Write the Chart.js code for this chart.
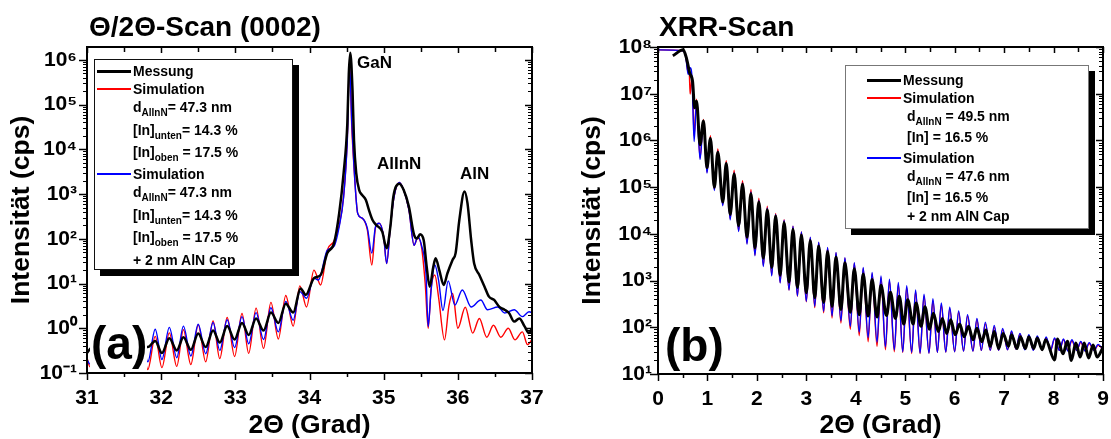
<!DOCTYPE html>
<html><head><meta charset="utf-8">
<script src="https://cdn.jsdelivr.net/npm/chart.js@4.4.1/dist/chart.umd.min.js"></script>
<style>
html,body{margin:0;padding:0;background:#fff}
body{width:1111px;height:439px;position:relative;overflow:hidden;font-family:"Liberation Sans",Arial,Helvetica,sans-serif;font-weight:bold;color:#000}
canvas{position:absolute;top:0}
#ca{left:0;width:556px;height:439px}
#cb{left:556px;width:555px;height:439px}
.t{position:absolute;white-space:nowrap;font-weight:bold}
.title{font-size:28px;line-height:28px}
.lg{position:absolute;background:#fff;box-shadow:6px 6px 0 #000}
.lg .r{position:absolute;font-size:14px;line-height:18px;height:18px;white-space:nowrap}
.lg .ln{position:absolute;height:0}
.sub{font-size:10px;position:relative;top:4px}
.pk{font-size:17px;line-height:17px}
.lab{font-size:46px;line-height:46px}
.wb{position:absolute;background:#fff}
</style></head><body>
<canvas id="ca" width="556" height="439"></canvas>
<canvas id="cb" width="555" height="439"></canvas>

<div class="t title" style="left:89px;top:13px">Θ/2Θ-Scan (0002)</div>
<div class="t title" style="left:659px;top:13px">XRR-Scan</div>

<div class="t pk" style="left:357px;top:54px">GaN</div>
<div class="t pk" style="left:377px;top:155px">AlInN</div>
<div class="t pk" style="left:460px;top:165px">AlN</div>

<div class="wb" style="left:90px;top:312px;width:57px;height:60px"></div>
<div class="t lab" style="left:91px;top:320px">(a)</div>
<div class="t lab" style="left:665px;top:322px">(b)</div>

<div class="lg" style="left:94px;top:59px;width:197px;height:209px;border:1px solid #111">
  <div class="ln" style="left:2px;width:34px;top:10px;border-top:3px solid #000"></div>
  <div class="r" style="left:38px;top:2px">Messung</div>
  <div class="ln" style="left:2px;width:34px;top:28px;border-top:2px solid #ff0000"></div>
  <div class="r" style="left:38px;top:20px">Simulation</div>
  <div class="r" style="left:38px;top:38px">d<span class="sub">AlInN</span>= 47.3 nm</div>
  <div class="r" style="left:38px;top:61px">[In]<span class="sub">unten</span>= 14.3 %</div>
  <div class="r" style="left:38px;top:83px">[In]<span class="sub">oben</span> = 17.5 %</div>
  <div class="ln" style="left:2px;width:34px;top:113px;border-top:2px solid #0000ff"></div>
  <div class="r" style="left:38px;top:105px">Simulation</div>
  <div class="r" style="left:38px;top:123px">d<span class="sub">AlInN</span>= 47.3 nm</div>
  <div class="r" style="left:38px;top:146px">[In]<span class="sub">unten</span>= 14.3 %</div>
  <div class="r" style="left:38px;top:168px">[In]<span class="sub">oben</span> = 17.5 %</div>
  <div class="r" style="left:38px;top:191px">+ 2 nm AlN Cap</div>
</div>

<div class="lg" style="left:845px;top:65px;width:242px;height:162px;border:1px solid #777">
  <div class="ln" style="left:21px;width:34px;top:13px;border-top:3px solid #000"></div>
  <div class="r" style="left:57px;top:5px">Messung</div>
  <div class="ln" style="left:21px;width:34px;top:31px;border-top:2px solid #ff0000"></div>
  <div class="r" style="left:57px;top:23px">Simulation</div>
  <div class="r" style="left:61px;top:41px">d<span class="sub">AlInN</span> = 49.5 nm</div>
  <div class="r" style="left:61px;top:62px">[In] = 16.5 %</div>
  <div class="ln" style="left:21px;width:34px;top:91px;border-top:2px solid #0000ff"></div>
  <div class="r" style="left:57px;top:83px">Simulation</div>
  <div class="r" style="left:61px;top:101px">d<span class="sub">AlInN</span> = 47.6 nm</div>
  <div class="r" style="left:61px;top:122px">[In] = 16.5 %</div>
  <div class="r" style="left:61px;top:141px">+ 2 nm AlN Cap</div>
</div>

<script>
// ---------- tick labels ----------
const xrdXTicks = [31, 32, 33, 34, 35, 36, 37];
const xrdYTicks = [0.1, 1, 10, 100, 1000, 1e4, 1e5, 1e6];
const xrrXTicks = [0, 1, 2, 3, 4, 5, 6, 7, 8, 9];
const xrrYTicks = [10, 100, 1000, 1e4, 1e5, 1e6, 1e7, 1e8];

// ---------- (a) Theta/2Theta scan ----------
const xrdMessX = [31.00,31.05,31.20,31.40,31.60,31.82,31.92,32.01,32.11,32.21,32.30,32.40,32.50,32.60,32.70,32.79,32.89,32.99,33.09,33.18,33.28,33.38,33.48,33.58,33.68,33.78,33.88,33.95,34.06,34.15,34.24,34.33,34.40,34.46,34.51,34.53,34.55,34.58,34.60,34.63,34.67,34.71,34.76,34.80,34.85,34.90,34.98,35.04,35.09,35.13,35.21,35.27,35.34,35.41,35.45,35.49,35.54,35.58,35.62,35.67,35.70,35.75,35.81,35.86,35.93,35.97,36.02,36.09,36.13,36.18,36.22,36.29,36.36,36.42,36.49,36.56,36.63,36.69,36.76,36.83,36.90,36.96,37.00];
const xrdMessY = [0.28,0.355,0.40,0.355,0.40,0.38,0.52,0.28,0.60,0.32,0.63,0.33,0.76,0.38,0.89,0.48,1.12,0.56,1.32,0.71,1.66,0.89,2.24,1.32,3.55,2.24,7.8,5.6,13.2,15.5,48,79,370,2950,3.8e4,5.0e5,1.45e6,2.1e5,1.6e4,2950,1230,955,740,450,263,204,145,62,186,870,1700,1230,525,123,102,126,93,24,8.5,24,37,20,9.3,17,34,48,263,1150,630,93,28,15.5,8.5,5.1,4.3,3.0,2.6,2.2,1.41,1.66,1.10,0.78,1.0];

const xrdSim1X = [31.00,31.04,31.13,31.24,31.33,31.43,31.53,31.63,31.73,31.82,31.92,32.01,32.11,32.21,32.30,32.40,32.50,32.60,32.70,32.79,32.89,32.99,33.09,33.18,33.28,33.38,33.48,33.58,33.68,33.78,33.87,33.96,34.06,34.15,34.24,34.33,34.40,34.46,34.51,34.54,34.57,34.60,34.65,34.71,34.78,34.84,34.89,34.94,35.00,35.04,35.09,35.14,35.21,35.27,35.34,35.41,35.46,35.51,35.56,35.60,35.64,35.69,35.74,35.82,35.88,35.93,36.00,36.10,36.20,36.29,36.39,36.48,36.58,36.68,36.77,36.87,36.94,37.00];
const xrdSim1Y = [0.22,0.138,0.50,0.126,0.52,0.12,0.56,0.12,0.60,0.12,0.66,0.132,0.79,0.141,0.93,0.155,1.20,0.178,1.45,0.21,1.74,0.234,2.14,0.275,2.82,0.355,3.8,0.575,5.4,1.12,8.9,3.0,20,9.3,56,89,200,890,1.8e4,1.0e6,3.2e4,4.0e3,370,290,158,26,178,224,112,28,186,870,1820,1230,450,72,105,66,10,1.0,7.9,15.5,5.0,0.55,3.16,6.0,1.0,2.95,0.78,1.66,0.63,1.17,0.63,1.0,0.55,0.83,0.43,0.56];

const xrdSim2X = [31.00,31.04,31.13,31.24,31.33,31.43,31.53,31.63,31.73,31.82,31.92,32.01,32.11,32.21,32.30,32.40,32.50,32.60,32.70,32.79,32.89,32.99,33.09,33.18,33.28,33.38,33.48,33.58,33.68,33.78,33.87,33.96,34.06,34.12,34.24,34.33,34.40,34.46,34.51,34.54,34.57,34.60,34.65,34.71,34.78,34.84,34.89,34.94,35.00,35.04,35.09,35.14,35.21,35.27,35.34,35.41,35.46,35.51,35.57,35.60,35.64,35.69,35.74,35.80,35.87,35.96,36.06,36.18,36.31,36.40,36.54,36.63,36.76,36.87,36.96,37.00];
const xrdSim2Y = [0.20,0.158,0.71,0.178,0.76,0.178,0.79,0.178,0.83,0.178,0.95,0.20,1.05,0.22,1.12,0.24,1.23,0.27,1.35,0.32,1.55,0.37,1.82,0.45,2.24,0.56,2.88,0.83,3.98,1.51,6.6,4.7,13.2,12.0,56,68,186,870,1.6e4,7.9e5,4.0e4,4.1e3,370,290,174,48,186,224,112,28,186,870,1820,1230,450,72,112,72,17,1.10,7.2,26,12,2.5,11.5,3.3,7.2,3.0,4.3,2.6,3.0,2.2,2.6,1.82,2.34,2.24];

// ---------- (b) XRR scan ----------
const xrrMessX = [0.30,0.51,0.58,0.64,0.70,0.74,0.78,0.85,0.92,0.99,1.06,1.14,1.21,1.31,1.38,1.46,1.54,1.63,1.71,1.80,1.88,1.96,2.04,2.13,2.21,2.30,2.38,2.47,2.55,2.65,2.73,2.82,2.90,3.00,3.08,3.17,3.25,3.35,3.43,3.52,3.60,3.70,3.78,3.89,3.97,4.07,4.15,4.25,4.33,4.43,4.51,4.62,4.70,4.80,4.88,4.97,5.05,5.16,5.22,5.32,5.40,5.49,5.57,5.67,5.75,5.84,5.92,6.01,6.10,6.19,6.28,6.37,6.45,6.55,6.63,6.72,6.80,6.89,6.98,7.09,7.15,7.26,7.33,7.43,7.50,7.60,7.67,7.77,7.84,8.02,8.08,8.19,8.28,8.36,8.45,8.54,8.62,8.71,8.80,8.88,9.00];
const xrrMessY = [6.5e7,8.7e7,5.5e7,2.8e7,1.8e7,5.0e6,6.9e6,8.1e5,2.6e6,2.6e5,1.1e6,1.0e5,5.6e5,4.8e4,3.2e5,2.6e4,1.9e5,1.5e4,1.15e5,8.5e3,7.2e4,5.0e3,4.8e4,3.0e3,3.3e4,1.9e3,2.4e4,1.3e3,1.74e4,930,1.26e4,710,9.5e3,550,7.2e3,430,5.5e3,340,4.2e3,280,3.2e3,240,2.4e3,210,1.8e3,186,1.38e3,174,1.05e3,166,790,178,560,155,460,117,390,117,330,105,275,91,200,81,155,74,145,69,117,63,105,54,95,49,87,39,81,35,74,39,69,35,63,35,63,35,59,33,54,20,56,27,50,19.5,46,23,46,22,42,23,37];

const xrrSim1X = [0,0.50,0.56,0.61,0.63,0.65,0.69,0.73,0.78,0.85,0.92,0.99,1.06,1.14,1.21,1.31,1.38,1.46,1.54,1.63,1.71,1.80,1.88,1.96,2.04,2.13,2.21,2.30,2.38,2.47,2.55,2.65,2.73,2.82,2.90,3.00,3.08,3.17,3.25,3.35,3.43,3.52,3.60,3.70,3.78,3.89,3.97,4.07,4.15,4.25,4.33,4.43,4.51,4.60,4.68,4.78,4.86,4.95,5.03,5.13,5.21,5.30,5.38,5.48,5.56,5.65,5.73,5.82,5.90,6.00,6.08,6.18,6.26,6.37,6.45,6.54,6.62,6.72,6.80,6.89,6.97,7.07,7.15,7.24,7.32,7.42,7.50,7.59,7.67,7.77,7.85,7.94,8.02,8.12,8.20,8.29,8.37,8.47,8.55,8.64,8.72,8.82,8.90,8.99];
const xrrSim1Y = [8.7e7,8.3e7,6.6e7,2.8e7,3.2e7,9.8e6,2.3e7,1.26e6,7.6e6,4.2e5,2.8e6,2.1e5,1.26e6,8.9e4,6.6e5,4.2e4,3.7e5,2.1e4,2.3e5,1.17e4,1.38e5,6.3e3,8.9e4,3.5e3,5.8e4,2.1e3,3.9e4,1.32e3,2.75e4,910,2.0e4,630,1.45e4,460,1.1e4,350,8.3e3,263,6.5e3,204,5.0e3,158,3.9e3,123,3.0e3,91,2.35e3,66,1.82e3,49,1.41e3,39,1.15e3,33,980,30,830,29,710,27.5,575,27.5,470,28,370,29,300,29.5,250,30,210,31,174,31,145,32,120,32,102,32,89,33,79,34,71,34,66,33,62,33,59,32,56,32,54,32,51,32,48,31,45,32,41,35];

const xrrSim2X = [0,0.50,0.56,0.61,0.65,0.69,0.73,0.78,0.85,0.92,0.99,1.06,1.14,1.21,1.31,1.38,1.46,1.54,1.63,1.71,1.80,1.88,1.96,2.04,2.13,2.21,2.30,2.38,2.47,2.55,2.65,2.73,2.82,2.90,3.00,3.08,3.17,3.25,3.35,3.43,3.52,3.60,3.70,3.78,3.89,3.97,4.07,4.15,4.25,4.33,4.43,4.51,4.60,4.68,4.78,4.86,4.95,5.03,5.13,5.21,5.30,5.38,5.48,5.56,5.65,5.73,5.82,5.90,6.00,6.08,6.18,6.26,6.37,6.45,6.54,6.62,6.72,6.80,6.89,6.97,7.07,7.15,7.24,7.32,7.42,7.50,7.59,7.67,7.77,7.85,7.94,8.02,8.12,8.20,8.29,8.37,8.47,8.55,8.64,8.72,8.82,8.90,8.99];
const xrrSim2Y = [8.7e7,8.3e7,6.3e7,2.6e7,3.6e7,2.0e7,9.5e5,6.9e6,3.9e5,2.6e6,2.0e5,1.15e6,8.5e4,5.9e5,4.0e4,3.3e5,2.0e4,2.05e5,1.12e4,1.23e5,6.0e3,7.9e4,3.4e3,5.2e4,2.0e3,3.6e4,1.26e3,2.6e4,890,1.95e4,630,1.45e4,470,1.1e4,360,8.5e3,280,6.6e3,220,5.1e3,175,4.0e3,138,3.1e3,105,2.4e3,79,1.9e3,60,1.5e3,48,1.26e3,38,1.07e3,33,910,30,780,29,630,28,510,28,410,29,330,29.5,270,30,224,31,186,31,155,32,129,32,110,32,95,33,83,34,74,33,69,32,65,33,62,32,59,32,56,31,54,32,50,31,47,32,43,35];

// ---------- helpers ----------
const FONT = "'Liberation Sans', Arial, Helvetica, sans-serif";
Chart.defaults.font.family = FONT;
Chart.defaults.color = '#000';
const SUP = {'-':'\u207B','0':'\u2070','1':'\u00B9','2':'\u00B2','3':'\u00B3','4':'\u2074','5':'\u2075','6':'\u2076','7':'\u2077','8':'\u2078','9':'\u2079'};
function expLabel(v) {
  const e = Math.round(Math.log10(v));
  return '10' + String(e).split('').map(c => SUP[c]).join('');
}
function pts(xs, ys) { return xs.map((x, i) => ({x: x, y: ys[i]})); }

const framePlugin = {
  id: 'frame',
  afterDatasetsDraw(chart, args, o) {
    const ctx = chart.ctx, a = chart.chartArea, sx = chart.scales.x, sy = chart.scales.y;
    ctx.save();
    ctx.strokeStyle = '#000';
    ctx.lineWidth = 1.5;
    const ln = (x1, y1, x2, y2) => { ctx.beginPath(); ctx.moveTo(x1, y1); ctx.lineTo(x2, y2); ctx.stroke(); };
    const xs = o.xTicks;
    for (let i = 0; i < xs.length; i++) {
      const p = Math.round(sx.getPixelForValue(xs[i])) + 0.5;
      ln(p, a.bottom, p, a.bottom + 7);
      ln(p, a.top, p, a.top + 6);
      if (i < xs.length - 1) {
        const m = Math.round(sx.getPixelForValue((xs[i] + xs[i + 1]) / 2)) + 0.5;
        ln(m, a.bottom, m, a.bottom + 4);
        ln(m, a.top, m, a.top + 5);
      }
    }
    const ys = o.yTicks;
    const yMax = sy.max;
    for (let i = 0; i < ys.length; i++) {
      const p = Math.round(sy.getPixelForValue(ys[i])) + 0.5;
      ctx.lineWidth = 1.5;
      ln(a.left - 8, p, a.left, p);
      ln(a.right - 7, p, a.right, p);
      ctx.lineWidth = 1;
      for (let k = 2; k <= 9; k++) {
        const v = ys[i] * k;
        if (v > yMax) break;
        const q = Math.round(sy.getPixelForValue(v)) + 0.5;
        ln(a.left - 4, q, a.left, q);
        ln(a.right - 4, q, a.right, q);
      }
    }
    ctx.lineWidth = 2;
    ctx.strokeRect(a.left, a.top, a.right - a.left, a.bottom - a.top);
    ctx.restore();
  }
};

function makeChart(id, cfg) {
  const bold = {family: FONT, weight: 'bold'};
  return new Chart(document.getElementById(id), {
    type: 'line',
    data: {datasets: [
      {data: pts(cfg.mx, cfg.my), borderColor: '#000000', borderWidth: cfg.bw},
      {data: pts(cfg.bx, cfg.by), borderColor: '#0000ff', borderWidth: 1.4},
      {data: pts(cfg.rx, cfg.ry), borderColor: '#ff0000', borderWidth: 1.4}
    ]},
    options: {
      responsive: false, maintainAspectRatio: false, animation: false,
      elements: {point: {radius: 0}, line: {tension: 0.3, cubicInterpolationMode: 'monotone', borderJoinStyle: 'round'}},
      layout: {padding: {left: 0, right: cfg.padR, top: 47, bottom: 0}},
      plugins: {legend: {display: false}, tooltip: {enabled: false}, title: {display: false},
        frame: {xTicks: cfg.xTicks, yTicks: cfg.yTicks}},
      scales: {
        x: {type: 'linear', position: 'bottom', min: cfg.xmin, max: cfg.xmax,
          afterBuildTicks: s => { s.ticks = cfg.xTicks.map(v => ({value: v})); },
          afterFit: s => { s.height = cfg.xH; s.paddingLeft = 0; s.paddingRight = 0; },
          grid: {display: false, drawTicks: false},
          border: {display: false},
          ticks: {autoSkip: false, maxRotation: 0, padding: 13, color: '#000',
            font: Object.assign({size: 21}, bold), callback: v => String(v)},
          title: {display: true, text: '2Θ (Grad)', color: '#000',
            font: Object.assign({size: 26.5, lineHeight: 1}, bold), padding: {top: 0, bottom: 0}}
        },
        y: {type: 'logarithmic', position: 'left', min: cfg.ymin, max: cfg.ymax,
          afterBuildTicks: s => { s.ticks = cfg.yTicks.map(v => ({value: v, major: true})); },
          afterFit: s => { s.width = cfg.yW; s.paddingTop = 0; s.paddingBottom = 0; },
          grid: {display: false, drawTicks: false},
          border: {display: false},
          ticks: {autoSkip: false, padding: cfg.yPad, color: '#000',
            font: Object.assign({size: 21}, bold), callback: v => expLabel(v)},
          title: {display: true, text: 'Intensität (cps)', color: '#000',
            font: Object.assign({size: 26.5, lineHeight: 1}, bold), padding: {top: cfg.yTitlePad, bottom: 0}}
        }
      }
    },
    plugins: [framePlugin]
  });
}

makeChart('ca', {mx: xrdMessX, my: xrdMessY, bx: xrdSim2X, by: xrdSim2Y, rx: xrdSim1X, ry: xrdSim1Y,
  bw: 2.5, xmin: 31, xmax: 37, ymin: 0.1, ymax: 1.95e6, xTicks: xrdXTicks, yTicks: xrdYTicks,
  padR: 24, xH: 66, yW: 87, yPad: 10, yTitlePad: 8});
makeChart('cb', {mx: xrrMessX, my: xrrMessY, bx: xrrSim2X, by: xrrSim2Y, rx: xrrSim1X, ry: xrrSim1Y,
  bw: 3, xmin: 0, xmax: 9, ymin: 10, ymax: 1e8, xTicks: xrrXTicks, yTicks: xrrYTicks,
  padR: 8, xH: 65, yW: 102, yPad: 6, yTitlePad: 23});
</script>
</body></html>
